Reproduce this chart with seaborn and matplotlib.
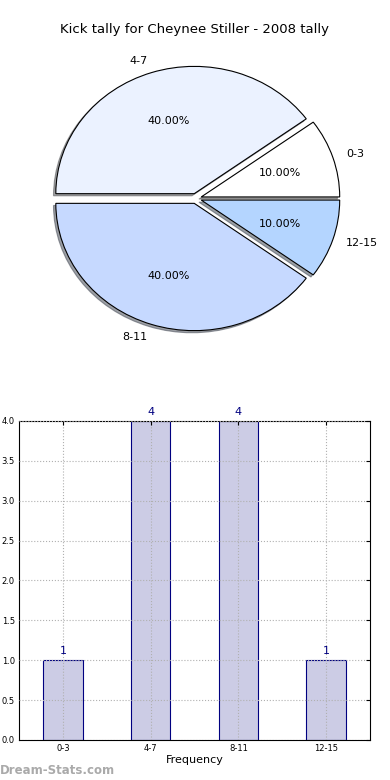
import numpy as np
import pandas as pd
import matplotlib
matplotlib.use("Agg")
import matplotlib.pyplot as plt
import seaborn as sns

# data
categories = ["0-3", "4-7", "8-11", "12-15"]
counts = [1, 4, 4, 1]
slice_colors = ["#FFFFFF", "#EBF2FF", "#C6D9FF", "#B4D5FF"]
title = "Kick tally for Cheynee Stiller - 2008 tally"

sns.set_style("white")
plt.rcParams["font.family"] = ["DejaVu Sans"]
plt.rcParams["text.color"] = "black"
plt.rcParams["axes.labelcolor"] = "black"
plt.rcParams["xtick.color"] = "black"
plt.rcParams["ytick.color"] = "black"

fig = plt.figure(figsize=(3.9, 7.8), dpi=100)

# --- pie (stretched, not equal aspect) ---
ax_pie = fig.add_axes([0.112, 0.566, 0.781, 0.359])
wedges, texts, autotexts = ax_pie.pie(
    counts,
    labels=categories,
    colors=slice_colors,
    explode=[0.04] * len(counts),
    autopct="%.2f%%",
    shadow={"ox": -0.012, "oy": -0.012},
    startangle=0,
    wedgeprops=dict(edgecolor="black", linewidth=0.8),
    textprops=dict(fontsize=8, color="black"),
)
ax_pie.set_aspect("auto")
ax_pie.set_xlim(-1.1, 1.1)
ax_pie.set_ylim(-1.1, 1.1)
ax_pie.axis("off")
fig.text(0.5, 1 - 30 / 780, title, ha="center", va="center", fontsize=9.5)

# --- bar chart ---
ax_bar = fig.add_axes([0.0487, 0.0513, 0.9, 0.409])
df = pd.DataFrame({"range": categories, "count": counts})
sns.barplot(data=df, x="range", y="count", order=categories, ax=ax_bar,
            color="#CCCCE5", edgecolor="navy", linewidth=0.8, width=0.45,
            saturation=1)
ax_bar.set_xlim(-0.5, 3.5)
ax_bar.set_ylim(0, 4)
ax_bar.set_yticks(np.arange(0, 4.01, 0.5))
ax_bar.set_yticklabels([f"{v:.1f}" for v in np.arange(0, 4.01, 0.5)])
ax_bar.grid(True, linestyle=":", color="#B0B0B0", linewidth=0.8)
ax_bar.set_axisbelow(False)
for bar in ax_bar.patches:
    bar.set_zorder(1)
ax_bar.tick_params(axis="both", labelsize=6, direction="in", length=3,
                   top=True, right=True, pad=3)
for s in ax_bar.spines.values():
    s.set_color("black")
    s.set_linewidth(0.8)
ax_bar.set_xlabel("Frequency", fontsize=8, labelpad=1)
ax_bar.set_ylabel("")
for i, c in enumerate(counts):
    ax_bar.text(i, c + 0.05, str(c), ha="center", va="bottom",
                color="navy", fontsize=8, clip_on=False)

fig.text(0.0, 1 - 770 / 780, "Dream-Stats.com", ha="left", va="center",
         fontsize=8.5, color="#AAAAAA", fontweight="bold")

fig.savefig("out.png", dpi=100)
